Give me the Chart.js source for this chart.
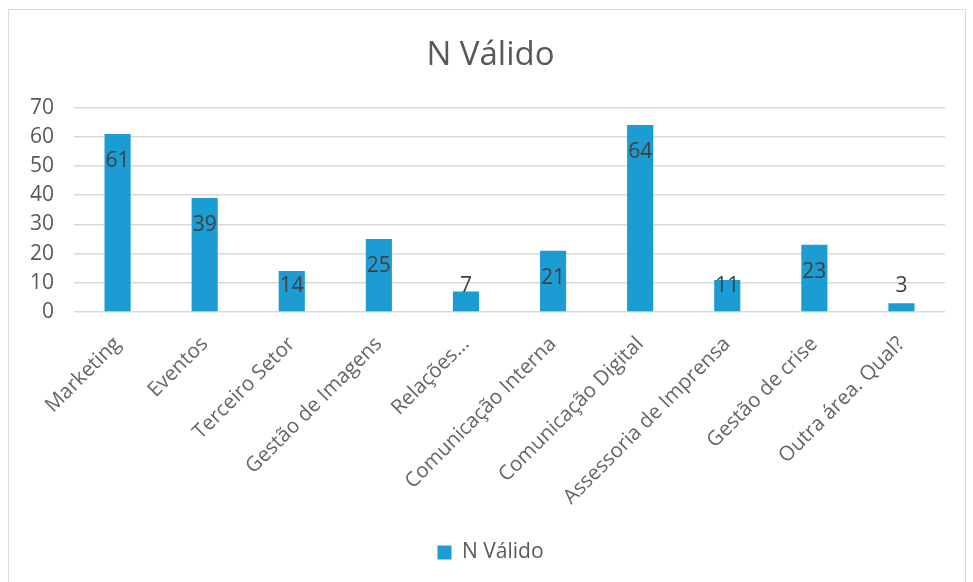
<!DOCTYPE html>
<html>
<head>
<meta charset="utf-8">
<script src="https://cdn.jsdelivr.net/npm/chart.js@4"></script>
<style>
  html, body { margin: 0; padding: 0; background: #fff; }
  #box { position: absolute; left: 8px; top: 9px; width: 958px; height: 600px; border: 1px solid #d9d9d9; box-sizing: border-box; }
  #wrap { position: absolute; left: 0; top: 0; width: 973px; height: 582px; }
</style>
</head>
<body>
<div id="box"></div>
<div id="wrap"><canvas id="myChart" width="973" height="582"></canvas></div>
<script>
/* dados do gráfico */
const categorias = ['Marketing', 'Eventos', 'Terceiro Setor', 'Gestão de Imagens', 'Relações...',
  'Comunicação Interna', 'Comunicação Digital', 'Assessoria de Imprensa', 'Gestão de crise', 'Outra área. Qual?'];
const valores = [61, 39, 14, 25, 7, 21, 64, 11, 23, 3];
const nomeSerie = 'N Válido';

const fonte = '"Open Sans", sans-serif';
const cinza = '#595959';

/* rótulos de dados tipo Excel (dentro, no topo da barra) */
const rotulos = {
  id: 'rotulos',
  afterDatasetsDraw(chart) {
    const ctx = chart.ctx;
    const meta = chart.getDatasetMeta(0);
    ctx.save();
    ctx.font = '21px ' + fonte;
    ctx.fillStyle = '#404040';
    ctx.textAlign = 'center';
    ctx.textBaseline = 'middle';
    meta.data.forEach((bar, i) => {
      const y = Math.min(bar.y + 27, bar.base - 25);
      ctx.fillText(chart.data.datasets[0].data[i], bar.x, y);
    });
    ctx.restore();
  }
};

/* título e legenda um pouco à direita, como no original */
const desloca = {
  id: 'desloca',
  afterLayout(chart) {
    [chart.titleBlock, chart.legend].forEach(b => {
      if (b) { b.left += 13; b.right += 13; }
    });
  }
};

const chart = new Chart(document.getElementById('myChart'), {
  type: 'bar',
  data: {
    labels: categorias,
    datasets: [{
      label: nomeSerie,
      data: valores,
      backgroundColor: '#1b9dd3',
      barPercentage: 0.3,
      categoryPercentage: 1
    }]
  },
  options: {
    responsive: false,
    animation: false,
    layout: { padding: { left: 10, right: 28, top: 12, bottom: 9 } },
    plugins: {
      title: {
        display: true,
        text: nomeSerie,
        color: cinza,
        font: { family: fonte, size: 33, weight: 'normal' },
        padding: { top: 24, bottom: 32 }
      },
      legend: {
        position: 'bottom',
        labels: {
          color: cinza,
          font: { family: fonte, size: 21 },
          boxWidth: 14,
          boxHeight: 14,
          padding: 10
        }
      },
      tooltip: { enabled: false }
    },
    scales: {
      x: {
        grid: { display: false },
        border: { display: false },
        ticks: {
          color: '#666666',
          font: { family: fonte, size: 20.5 },
          maxRotation: 45,
          minRotation: 45,
          autoSkip: false,
          padding: 12
        },
        afterFit: (scale) => { scale.height = 220; }
      },
      y: {
        min: 0,
        max: 70,
        ticks: {
          stepSize: 10,
          color: cinza,
          font: { family: fonte, size: 21 },
          padding: 20
        },
        grid: { color: '#d9d9d9', lineWidth: 1.5, drawTicks: false },
        border: { display: false }
      }
    }
  },
  plugins: [rotulos, desloca]
});
</script>
</body>
</html>
